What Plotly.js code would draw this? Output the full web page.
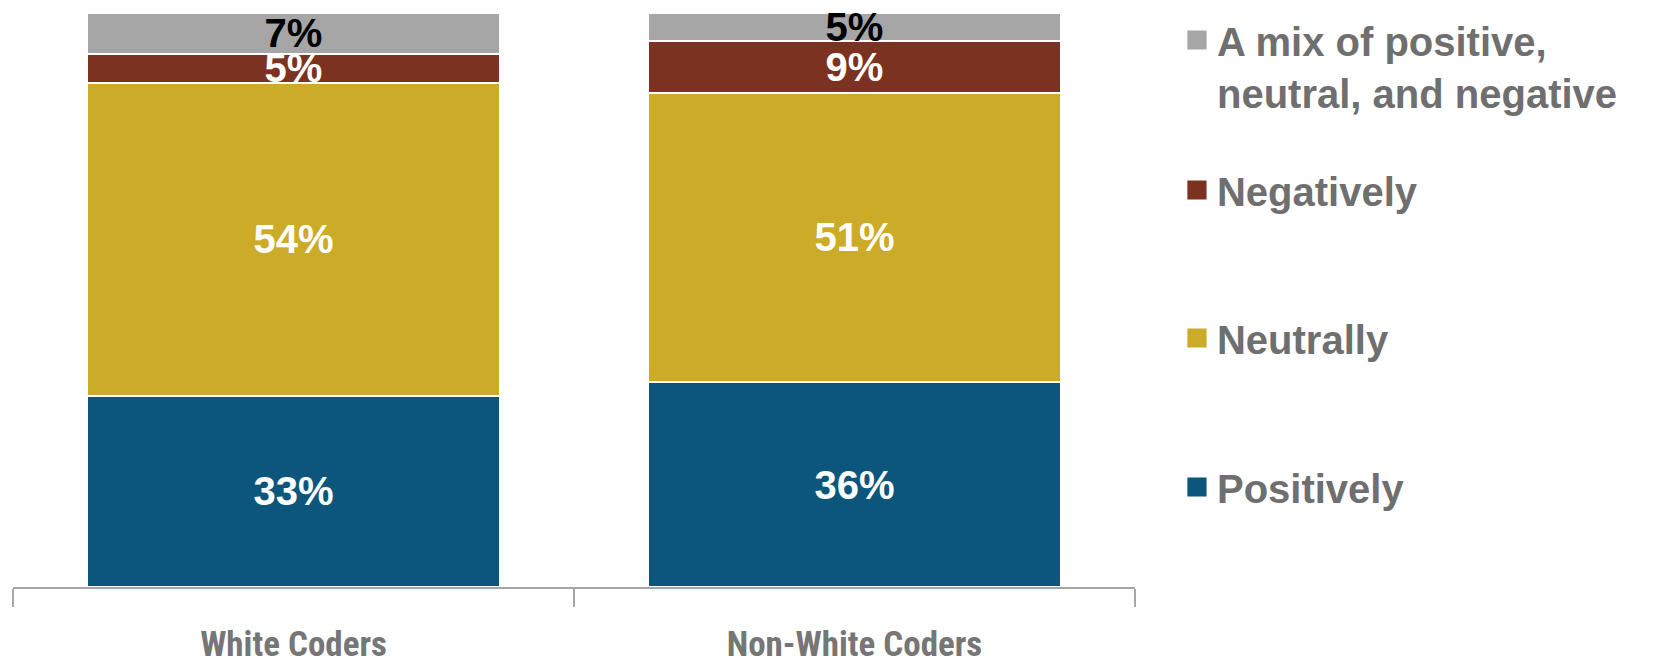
<!DOCTYPE html>
<html>
<head>
<meta charset="utf-8">
<script src="https://cdn.plot.ly/plotly-3.0.1.min.js"></script>
<style>html,body{margin:0;padding:0;background:#fff;}#chart{width:1658px;height:668px;}</style>
</head>
<body>
<div id="chart"></div>
<script>
const categories = ["White Coders", "Non-White Coders"];
const positively = [33, 36];
const neutrally = [54, 51];
const negatively = [5, 9];
const mixed = [7, 5];
const seriesNames = ["Positively", "Neutrally", "Negatively", "A mix of positive,<br>neutral, and negative"];
const seriesColors = ["#0d567b", "#ccab28", "#7c3221", "#a6a6a6"];
const labelColors = ["#ffffff", "#ffffff", "#ffffff", "#000000"];
const legendIds = ["legend4", "legend3", "legend2", "legend"];

const seriesValues = [positively, neutrally, negatively, mixed];

const traces = seriesValues.map((vals, i) => ({
  type: "bar",
  name: seriesNames[i],
  x: categories,
  y: vals,
  text: vals.map(v => v + "%"),
  textposition: "inside",
  insidetextanchor: "middle",
  constraintext: "none",
  textangle: 0,
  textfont: {family: "Liberation Sans, Arial, sans-serif", size: 40, weight: "bold", color: labelColors[i]},
  marker: {color: seriesColors[i], line: {color: "#ffffff", width: 2}},
  legend: legendIds[i],
  hoverinfo: "skip"
}));

const legendFont = {family: "Liberation Sans, Arial, sans-serif", size: 40, weight: "bold", color: "#6f6f6f"};
function mkLegend(y) {
  return {x: 1.0374, xanchor: "left", y: y, yanchor: "middle", xref: "paper", yref: "paper",
          font: legendFont, bgcolor: "rgba(0,0,0,0)", borderwidth: 0, valign: "top"};
}

const layout = {
  width: 1658, height: 668,
  margin: {l: 13, r: 523, t: 13, b: 81, autoexpand: false},
  paper_bgcolor: "#ffffff", plot_bgcolor: "#ffffff",
  barmode: "stack", barnorm: "percent", bargap: 0.264,
  showlegend: true,
  legend: mkLegend(0.9077),
  legend2: mkLegend(0.6916),
  legend3: mkLegend(0.4338),
  legend4: mkLegend(0.1742),
  xaxis: {
    type: "category",
    showline: true, linecolor: "#a6a6a6", linewidth: 2,
    ticks: "outside", tickson: "boundaries", ticklen: 18, tickwidth: 1.5, tickcolor: "#a6a6a6",
    ticklabelstandoff: 25,
    showgrid: false, zeroline: false,
    tickfont: {family: "Roboto Condensed, Liberation Sans Narrow, DejaVu Sans Condensed, sans-serif", size: 35, weight: "bold", color: "#767676"},
    fixedrange: true
  },
  yaxis: {range: [0, 100], visible: false, fixedrange: true},
  hovermode: false
};

Plotly.newPlot("chart", traces, layout, {displayModeBar: false, staticPlot: true}).then(function(gd) {
  gd.querySelectorAll(".legendpoints path").forEach(function(p) {
    var t = p.getAttribute("transform") || "";
    p.setAttribute("transform", t + " scale(1.6)");
    p.style.strokeWidth = "0";
  });
});
</script>
</body>
</html>
